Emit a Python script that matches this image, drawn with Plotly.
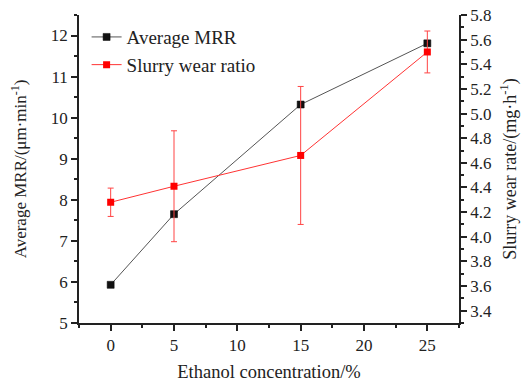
import plotly.graph_objects as go

ethanol = [0, 5, 15, 25]
mrr = [5.93, 7.65, 10.32, 11.81]
wear = [4.28, 4.41, 4.66, 5.50]
wear_err = [0.115, 0.45, 0.56, 0.17]

font = "Liberation Serif"

fig = go.Figure()
fig.add_trace(go.Scatter(
    x=ethanol, y=mrr, name="Average MRR", mode="lines+markers",
    line=dict(color="#555555", width=1),
    marker=dict(symbol="square", size=7, color="#111111", line=dict(color="#000", width=0.5)),
))
fig.add_trace(go.Scatter(
    x=ethanol, y=wear, name="Slurry wear ratio", mode="lines+markers", yaxis="y2",
    line=dict(color="#ff3333", width=1),
    marker=dict(symbol="square", size=7, color="#ff0000"),
    error_y=dict(type="data", array=wear_err, color="#ff4444", thickness=1, width=3),
))

axis_common = dict(
    showline=True, linecolor="#222", linewidth=1.5, ticks="outside", ticklen=6,
    tickwidth=1.5, tickcolor="#222", showgrid=False, zeroline=False, automargin=False,
    tickfont=dict(family=font, size=17, color="#222"),
)

fig.update_layout(
    width=521, height=382,
    margin=dict(l=79, r=62, t=15, b=59),
    paper_bgcolor="white", plot_bgcolor="white",
    font=dict(family=font, size=16, color="#222"),
    showlegend=True,
    legend=dict(x=0.02, y=0.99, xanchor="left", yanchor="top", bgcolor="rgba(0,0,0,0)",
                font=dict(family=font, size=19, color="#222"), tracegroupgap=0,
                itemwidth=30),
    xaxis=dict(range=[-2.5, 27.5], tickvals=[0, 5, 10, 15, 20, 25],
               minor=dict(ticks="outside", ticklen=3, tickwidth=1.5, tickcolor="#222", dtick=2.5, tick0=0),
               title=dict(text="Ethanol concentration/%", font=dict(family=font, size=18.5), standoff=16),
               **axis_common),
    yaxis=dict(range=[5, 12.5], tickvals=[5, 6, 7, 8, 9, 10, 11, 12],
               minor=dict(ticks="outside", ticklen=3, tickwidth=1.5, tickcolor="#222", dtick=0.5, tick0=5),
               title=dict(text="Average MRR/(μm·min<sup>-1</sup>)", font=dict(family=font, size=17), standoff=20),
               **axis_common),
    yaxis2=dict(range=[3.3, 5.8], overlaying="y", side="right", anchor="x",
                tickvals=[3.4, 3.6, 3.8, 4.0, 4.2, 4.4, 4.6, 4.8, 5.0, 5.2, 5.4, 5.6, 5.8],
                ticktext=["3.4", "3.6", "3.8", "4.0", "4.2", "4.4", "4.6", "4.8", "5.0", "5.2", "5.4", "5.6", "5.8"],
                minor=dict(ticks="outside", ticklen=3, tickwidth=1.5, tickcolor="#222", dtick=0.1, tick0=3.3),
                title=dict(text="Slurry wear rate/(mg·h<sup>-1</sup>)", font=dict(family=font, size=18), standoff=12),
                **axis_common),
)

fig.write_html("out.html")
